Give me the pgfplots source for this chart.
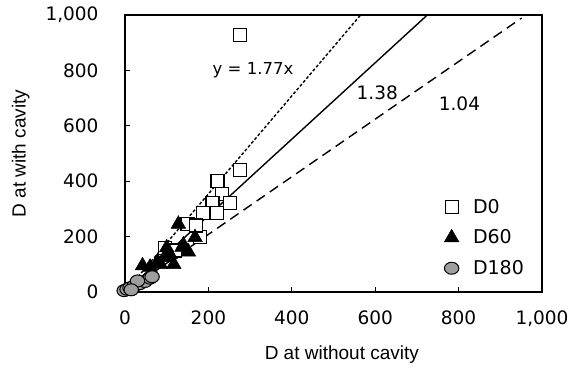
\documentclass[border=0pt]{standalone}
\usepackage{pgfplots}
\pgfplotsset{compat=1.18}
\usepackage{fontspec}
\setmainfont{DejaVu Sans}
\newfontfamily\lib{Liberation Sans}
\begin{document}
\begin{tikzpicture}
\useasboundingbox (-125pt,-76pt) rectangle (455pt,292pt);
\begin{axis}[
  at={(0pt,0pt)}, anchor=south west,
  scale only axis, width=417pt, height=277pt,
  xmin=0, xmax=1000, ymin=0, ymax=1000,
  xtick={0,200,...,1000}, ytick={0,200,...,1000},
  tick align=inside, major tick length=5pt,
  xtick pos=bottom, ytick pos=left,
  axis line style={line width=1.2pt},
  tick style={line width=1pt, black},
  /pgf/number format/assume math mode=true,
  /pgf/number format/1000 sep={,},
  ticklabel style={font=\fontsize{18.5}{21}\selectfont},
  yticklabel style={xshift=-23pt},
  xticklabel style={yshift=-15pt},
  xlabel={D at without cavity}, ylabel={D at with cavity},
  xlabel style={font=\lib\fontsize{19}{22}\selectfont, at={(axis description cs:0.52,-0.227)}, anchor=center},
  ylabel style={font=\lib\fontsize{19}{22}\selectfont, at={(axis description cs:-0.25,0.5)}, anchor=center},
  clip=false,
  legend style={draw=none, fill=none, at={(axis description cs:0.758,0.35)}, anchor=north west,
    font=\fontsize{19}{22}\selectfont, row sep=11pt, column sep=12pt, legend cell align=left},
]
\addplot[only marks, mark=square*, mark size=6.5pt, mark options={fill=white, draw=black, line width=1.2pt}]
coordinates {(276,928) (276,440) (222,402) (232,354) (210,322) (252,322) (220,284) (188,286) (150,245) (180,200) (96,160) (120,150) (170,240)};
\addlegendentry{D0}
\addplot[only marks, mark=triangle*, mark size=8.5pt, mark options={fill=black, draw=black}]
coordinates {(42,95) (60,90) (78,110) (95,125) (108,135) (117,100) (137,162) (128,245) (152,145) (168,197) (140,170) (100,160) (85,100)};
\addlegendentry{D60}
\addplot[only marks, mark=*, mark size=6pt, mark options={fill=black!38, draw=black, line width=1pt, xscale=1.2}]
coordinates {(-2,5) (5,10) (12,15) (22,22) (35,30) (48,38) (60,50) (30,40) (65,55) (15,8)};
\addlegendentry{D180}
\addplot[black, line width=1.4pt, dash pattern=on 3pt off 2pt, forget plot] coordinates {(0,0) (565,1000)};
\addplot[black, line width=1.4pt, forget plot] coordinates {(0,0) (725,1000)};
\addplot[black, line width=1.4pt, dash pattern=on 10pt off 6pt, forget plot] coordinates {(0,0) (951,989)};
\node[font=\fontsize{16.5}{19}\selectfont] at (axis cs:307,801) {y = 1.77x};
\node[font=\fontsize{18.5}{21}\selectfont] at (axis cs:605,718) {1.38};
\node[font=\fontsize{18.5}{21}\selectfont] at (axis cs:802,680) {1.04};
\end{axis}
\end{tikzpicture}
\end{document}
